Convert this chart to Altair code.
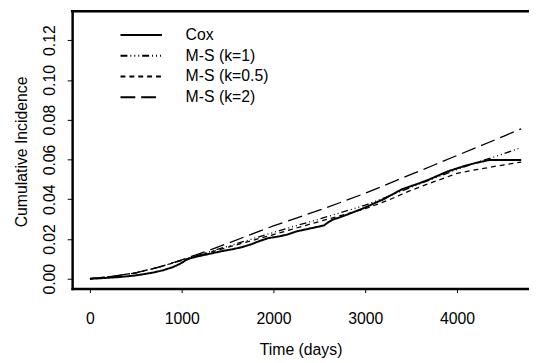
import altair as alt
import pandas as pd

# ---- data ----
series_names = ["Cox", "M-S (k=1)", "M-S (k=0.5)", "M-S (k=2)"]

cox_time = [0, 100, 200, 300, 400, 500, 600, 700, 800, 900, 950, 1000, 1050, 1100,
            1150, 1250, 1350, 1450, 1550, 1650, 1750, 1850, 1950, 2050, 2150, 2250,
            2350, 2450, 2550, 2600, 2650, 2700, 2800, 2900, 3000, 3100, 3200, 3300,
            3400, 3500, 3600, 3700, 3800, 3900, 4000, 4100, 4200, 4300, 4350, 4700]
cox_ci = [0.0, 0.0002, 0.0005, 0.0008, 0.0012, 0.0017, 0.0024, 0.0032, 0.0043, 0.0058,
          0.0068, 0.0080, 0.0095, 0.0104, 0.0110, 0.0120, 0.0130, 0.0140, 0.0148, 0.0158,
          0.0172, 0.0190, 0.0205, 0.0212, 0.0222, 0.0238, 0.0248, 0.0258, 0.0268, 0.0285,
          0.0298, 0.0305, 0.0322, 0.0340, 0.0358, 0.0380, 0.0400, 0.0425, 0.0450, 0.0466,
          0.0482, 0.0500, 0.0520, 0.0540, 0.0555, 0.0570, 0.0582, 0.0592, 0.0597, 0.0597]

ms_time = [0, 250, 500, 750, 1000, 1250, 1500, 1750, 2000, 2250, 2500, 2750, 3000,
           3250, 3500, 3750, 4000, 4250, 4500, 4700]
ms_k1 = [0.0, 0.0012, 0.0030, 0.0058, 0.0093, 0.0128, 0.0163, 0.0198, 0.0233, 0.0267,
         0.0300, 0.0335, 0.0370, 0.0415, 0.0460, 0.0505, 0.0550, 0.0590, 0.0627, 0.0660]
ms_k05 = [0.0, 0.0012, 0.0030, 0.0058, 0.0093, 0.0125, 0.0158, 0.0190, 0.0222, 0.0255,
          0.0288, 0.0320, 0.0352, 0.0395, 0.0445, 0.0488, 0.0530, 0.0552, 0.0572, 0.0587]
ms_k2 = [0.0, 0.0012, 0.0030, 0.0058, 0.0095, 0.0135, 0.0178, 0.0222, 0.0266, 0.0305,
         0.0345, 0.0387, 0.0430, 0.0477, 0.0525, 0.0572, 0.0620, 0.0667, 0.0715, 0.0754]

x_ticks = [0, 1000, 2000, 3000, 4000]
y_ticks = [0.00, 0.02, 0.04, 0.06, 0.08, 0.10, 0.12]

dash_patterns = [[1, 0], [7, 3, 1, 3, 1, 3, 1, 3], [5, 4], [15, 6]]

# ---- tables ----
cox_df = pd.DataFrame({"t": cox_time, "ci": cox_ci, "series": "Cox"})
ms_df = pd.concat([
    pd.DataFrame({"t": ms_time, "ci": ms_k1, "series": "M-S (k=1)"}),
    pd.DataFrame({"t": ms_time, "ci": ms_k05, "series": "M-S (k=0.5)"}),
    pd.DataFrame({"t": ms_time, "ci": ms_k2, "series": "M-S (k=2)"}),
])

W, H = 463, 281
FONT = "Liberation Sans"

xscale = alt.Scale(domain=[-194, 4785], nice=False, zero=False)
yscale = alt.Scale(domain=[-0.00496, 0.1345], nice=False, zero=False)

xax = alt.Axis(values=x_ticks, format="d", grid=False, domainColor="black",
               domainWidth=2.5, domainCap="square", tickColor="black", tickSize=4,
               tickWidth=1, labelFontSize=16, labelFont=FONT, labelColor="black",
               labelPadding=18, title="Time (days)", titleFont=FONT, titleFontSize=16,
               titleFontWeight="normal", titleColor="black", titleY=67,
               titleBaseline="alphabetic")
yax = alt.Axis(values=y_ticks, format=".2f", grid=False, domainColor="black",
               domainWidth=2.5, domainCap="square", tickColor="black", tickSize=5,
               tickWidth=1, labelFontSize=16, labelFont=FONT, labelColor="black",
               labelAngle=270, labelAlign="center", labelBaseline="alphabetic",
               labelPadding=13, title="Cumulative Incidence", titleFont=FONT,
               titleFontSize=16, titleFontWeight="normal", titleColor="black",
               titleAngle=270, titleX=-46, titleY=142, titleBaseline="alphabetic")

dash = alt.StrokeDash(
    "series:N",
    scale=alt.Scale(domain=series_names, range=dash_patterns),
    sort=series_names,
    legend=alt.Legend(
        title=None, orient="none", legendX=62, legendY=16, symbolType="M-3,0H3",
        symbolSize=196, symbolStrokeWidth=2, symbolStrokeColor="black",
        labelFontSize=16, labelFont=FONT, labelColor="black", labelOffset=37,
        rowPadding=5, padding=0,
    ),
)

cox_line = alt.Chart(cox_df).mark_line(color="black", strokeWidth=2).encode(
    x=alt.X("t:Q", scale=xscale, axis=xax),
    y=alt.Y("ci:Q", scale=yscale, axis=yax),
    strokeDash=dash,
)
ms_line = alt.Chart(ms_df).mark_line(color="black", strokeWidth=1.3).encode(
    x=alt.X("t:Q", scale=xscale, axis=xax),
    y=alt.Y("ci:Q", scale=yscale, axis=yax),
    strokeDash=dash,
)
top_border = alt.Chart(pd.DataFrame({"a": [0]})).mark_rule(
    color="black", strokeWidth=2.5, strokeCap="square"
).encode(x=alt.value(0), x2=alt.value(W), y=alt.value(0))

chart = alt.layer(ms_line, cox_line, top_border).properties(
    width=W, height=H,
    autosize=alt.AutoSizeParams(type="none"),
    padding={"left": 65, "top": 1, "right": 0, "bottom": 72},
).configure_view(stroke=None).configure(background="white")

chart.save("out.html", embed_options={"renderer": "svg", "actions": False})
